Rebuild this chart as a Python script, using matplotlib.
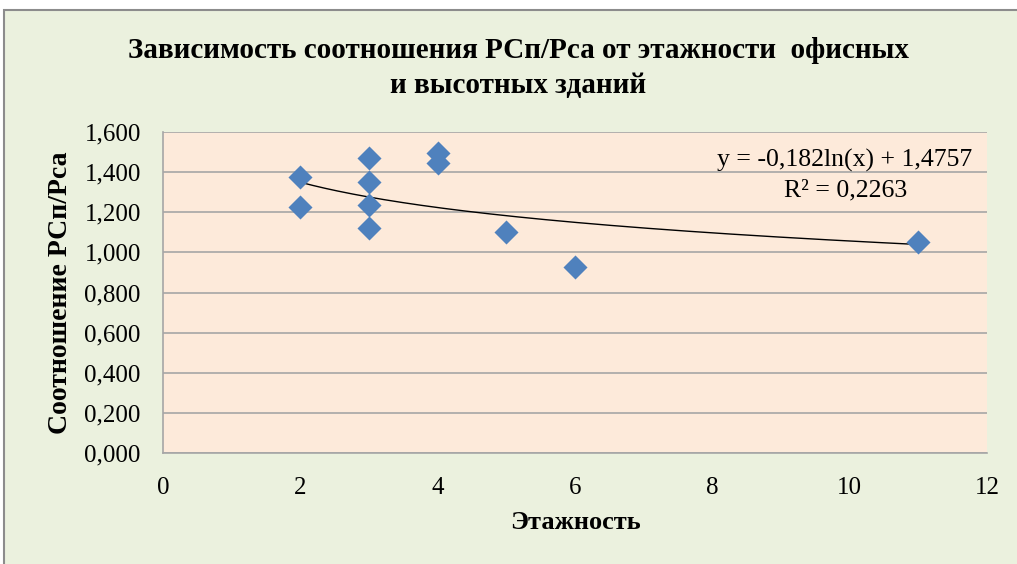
import numpy as np
import matplotlib.pyplot as plt
from matplotlib.patches import Rectangle
from matplotlib.ticker import FuncFormatter

# floors vs ratio PCп/Pca
floors = [2, 2, 3, 3, 3, 3, 4, 4, 5, 6, 11]
ratio = [1.377, 1.225, 1.469, 1.353, 1.237, 1.123, 1.497, 1.447, 1.103, 0.929, 1.050]

# log trend coefficients as shown on chart
a_coef = -0.182
b_coef = 1.4757
r2 = 0.2263

plt.rcParams['font.family'] = ['Liberation Serif', 'DejaVu Serif']

fig = plt.figure(figsize=(10.17, 5.64), dpi=100)
fig.patch.set_facecolor('white')
fig.patches.append(Rectangle((4/1017, -0.01), 1.1, 1 - 10/564 + 0.01, transform=fig.transFigure,
                             facecolor='#EBF1DE', edgecolor='#8C8C8C', linewidth=1.5, zorder=-10))

ax = fig.add_axes([163/1017, 1 - 453/564, 824/1017, 321/564])
ax.set_facecolor('#FDEADA')

ax.scatter(floors, ratio, marker='D', s=150, color='#4F81BD', zorder=3, linewidths=0)

xt = np.linspace(min(floors), max(floors), 200)
ax.plot(xt, a_coef*np.log(xt) + b_coef, color='black', lw=1.0, zorder=2)

ax.set_xlim(0, 12)
ax.set_ylim(0, 1.6)
ax.set_xticks(np.arange(0, 13, 2))
ax.set_yticks(np.arange(0, 1.61, 0.2))
ax.yaxis.set_major_formatter(FuncFormatter(lambda v, p: f"{v:.3f}".replace('.', ',')))
ax.grid(axis='y', color='#A6A6A6', lw=1.2)
ax.set_axisbelow(True)
ax.tick_params(length=0, labelsize=18)
ax.tick_params(axis='y', pad=16)
ax.tick_params(axis='x', pad=17)
for s in ['top', 'right']:
    ax.spines[s].set_visible(False)
for s in ['left', 'bottom']:
    ax.spines[s].set_color('#A6A6A6')
    ax.spines[s].set_linewidth(1.2)

ax.set_xlabel('Этажность', fontsize=19, fontweight='bold', labelpad=9)
ax.set_ylabel('Соотношение РСп/Рса', fontsize=20, fontweight='bold', labelpad=8)

fig.text(518/1017, 1 - 68/564, 'Зависимость соотношения РСп/Рса от этажности  офисных\nи высотных зданий',
         ha='center', va='center', fontsize=21, fontweight='bold', linespacing=1.42)

eq = f"y = {a_coef:.3f}ln(x) + {b_coef:.4f}".replace('.', ',')
ax.text((845 - 163)/824, (453 - 160)/321, eq, transform=ax.transAxes, ha='center', va='center', fontsize=18.5)
ax.text((846 - 163)/824, (453 - 190)/321, f"R² = {r2:.4f}".replace('.', ','), transform=ax.transAxes,
        ha='center', va='center', fontsize=18.5)

fig.savefig('out.png', dpi=100, facecolor=fig.get_facecolor())
